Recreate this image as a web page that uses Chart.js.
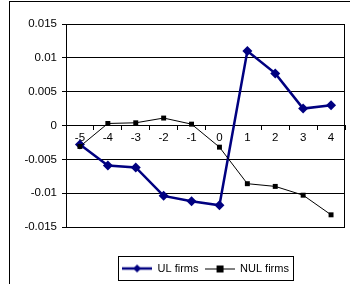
<!DOCTYPE html>
<html>
<head>
<meta charset="utf-8">
<script src="https://cdn.jsdelivr.net/npm/chart.js@4/dist/chart.umd.min.js"></script>
<style>
  html, body { margin: 0; padding: 0; background: #fff; }
  canvas { display: block; }
</style>
</head>
<body>
<canvas id="c" width="350" height="284"></canvas>
<script>
const categories = ['-5', '-4', '-3', '-2', '-1', '0', '1', '2', '3', '4'];
const ulFirms  = [-0.0028, -0.0059, -0.0062, -0.0104, -0.0112, -0.0118, 0.0110, 0.0077, 0.0025, 0.0030];
const nulFirms = [-0.0031, 0.0003, 0.0004, 0.0011, 0.0002, -0.0032, -0.0086, -0.0090, -0.0103, -0.0132];
const yTickLabels = ['-0.015', '-0.01', '-0.005', '0', '0.005', '0.01', '0.015'];
const seriesNames = ['UL firms', 'NUL firms'];

const FONT = "'Liberation Sans', Arial, sans-serif";
const NAVY = '#000080';

function legendIcon(kind) {
  const cv = document.createElement('canvas');
  cv.width = 30; cv.height = 12;
  const g = cv.getContext('2d');
  if (kind === 'ul') {
    g.strokeStyle = NAVY; g.lineWidth = 2.5;
    g.beginPath(); g.moveTo(0, 6); g.lineTo(30, 6); g.stroke();
    g.fillStyle = NAVY;
    g.beginPath(); g.moveTo(15, 2); g.lineTo(19, 6); g.lineTo(15, 10); g.lineTo(11, 6); g.closePath(); g.fill();
  } else {
    g.strokeStyle = '#000'; g.lineWidth = 1;
    g.beginPath(); g.moveTo(0, 6.5); g.lineTo(30, 6.5); g.stroke();
    g.fillStyle = '#000';
    g.fillRect(12, 3, 7, 7);
  }
  return cv;
}
const icons = [legendIcon('ul'), legendIcon('nul')];

const framePlugin = {
  id: 'frame',
  beforeDraw(chart) {
    const ctx = chart.ctx;
    ctx.save();
    ctx.fillStyle = '#fff';
    ctx.fillRect(0, 0, chart.width, chart.height);
    ctx.strokeStyle = '#000';
    ctx.lineWidth = 1;
    ctx.strokeRect(9.5, 1.5, 400, 400);
    ctx.restore();
  },
  afterDatasetsDraw(chart) {
    const a = chart.chartArea;
    const ctx = chart.ctx;
    ctx.save();
    ctx.strokeStyle = '#000';
    ctx.lineWidth = 1;
    ctx.beginPath();
    ctx.moveTo(Math.round(a.right) - 0.5, a.top);
    ctx.lineTo(Math.round(a.right) - 0.5, a.bottom);
    ctx.stroke();
    ctx.restore();
  },
  afterDraw(chart) {
    const boxes = chart.legend && chart.legend.legendHitBoxes;
    if (!boxes || !boxes.length) return;
    let x0 = Infinity, x1 = -Infinity, y0 = Infinity, y1 = -Infinity;
    boxes.forEach(b => {
      x0 = Math.min(x0, b.left); x1 = Math.max(x1, b.left + b.width);
      y0 = Math.min(y0, b.top); y1 = Math.max(y1, b.top + b.height);
    });
    const ctx = chart.ctx;
    ctx.save();
    ctx.strokeStyle = '#000';
    ctx.lineWidth = 1;
    ctx.strokeRect(Math.round(x0 - 4) + 0.5, Math.round(y0 - 7) + 0.5, Math.round(x1 - x0 + 8), Math.round(y1 - y0 + 13));
    ctx.restore();
  }
};

new Chart(document.getElementById('c'), {
  type: 'line',
  data: {
    labels: categories,
    datasets: [
      {
        label: seriesNames[0],
        data: ulFirms,
        borderColor: NAVY,
        backgroundColor: NAVY,
        borderWidth: 2.5,
        pointStyle: 'rectRot',
        pointRadius: 5,
        pointBorderWidth: 0,
        tension: 0,
        order: 1
      },
      {
        label: seriesNames[1],
        data: nulFirms,
        borderColor: '#000',
        backgroundColor: '#000',
        borderWidth: 1,
        pointStyle: 'rect',
        pointRadius: 3.5,
        pointBorderWidth: 0,
        tension: 0,
        order: 0
      }
    ]
  },
  options: {
    responsive: false,
    animation: false,
    devicePixelRatio: 1,
    layout: { padding: { left: 0, right: 4, top: 24, bottom: 0 } },
    plugins: {
      tooltip: { enabled: false },
      legend: {
        position: 'bottom',
        fullSize: false,
        title: {
          display: true,
          text: ' ',
          font: { family: FONT, size: 8, lineHeight: 1 },
          padding: { top: 0, bottom: 22 }
        },
        labels: {
          usePointStyle: true,
          pointStyleWidth: 30,
          padding: 6,
          color: '#000',
          font: { family: FONT, size: 11 },
          generateLabels(chart) {
            return seriesNames.map((n, i) => ({
              text: n,
              pointStyle: icons[i],
              datasetIndex: i,
              fontColor: '#000',
              lineWidth: 0,
              strokeStyle: 'transparent',
              fillStyle: 'transparent'
            }));
          }
        }
      }
    },
    scales: {
      x: {
        position: { y: 0 },
        offset: true,
        grid: {
          offset: true,
          drawOnChartArea: false,
          drawTicks: true,
          tickLength: 4,
          color: '#000'
        },
        border: { display: true, color: '#000', width: 1 },
        ticks: {
          color: '#000',
          font: { family: FONT, size: 11.5 },
          padding: 1,
          maxRotation: 0,
          autoSkip: false
        }
      },
      y: {
        min: -0.015,
        max: 0.015,
        afterFit(scale) { scale.width = 66; },
        grid: {
          color: '#000',
          lineWidth: 1,
          tickLength: 4
        },
        border: { display: true, color: '#000', width: 1 },
        ticks: {
          stepSize: 0.005,
          color: '#000',
          font: { family: FONT, size: 11.5 },
          padding: 5,
          callback(value) {
            const idx = Math.round((value + 0.015) / 0.005);
            return yTickLabels[idx];
          }
        }
      }
    }
  },
  plugins: [framePlugin]
});
</script>
</body>
</html>
